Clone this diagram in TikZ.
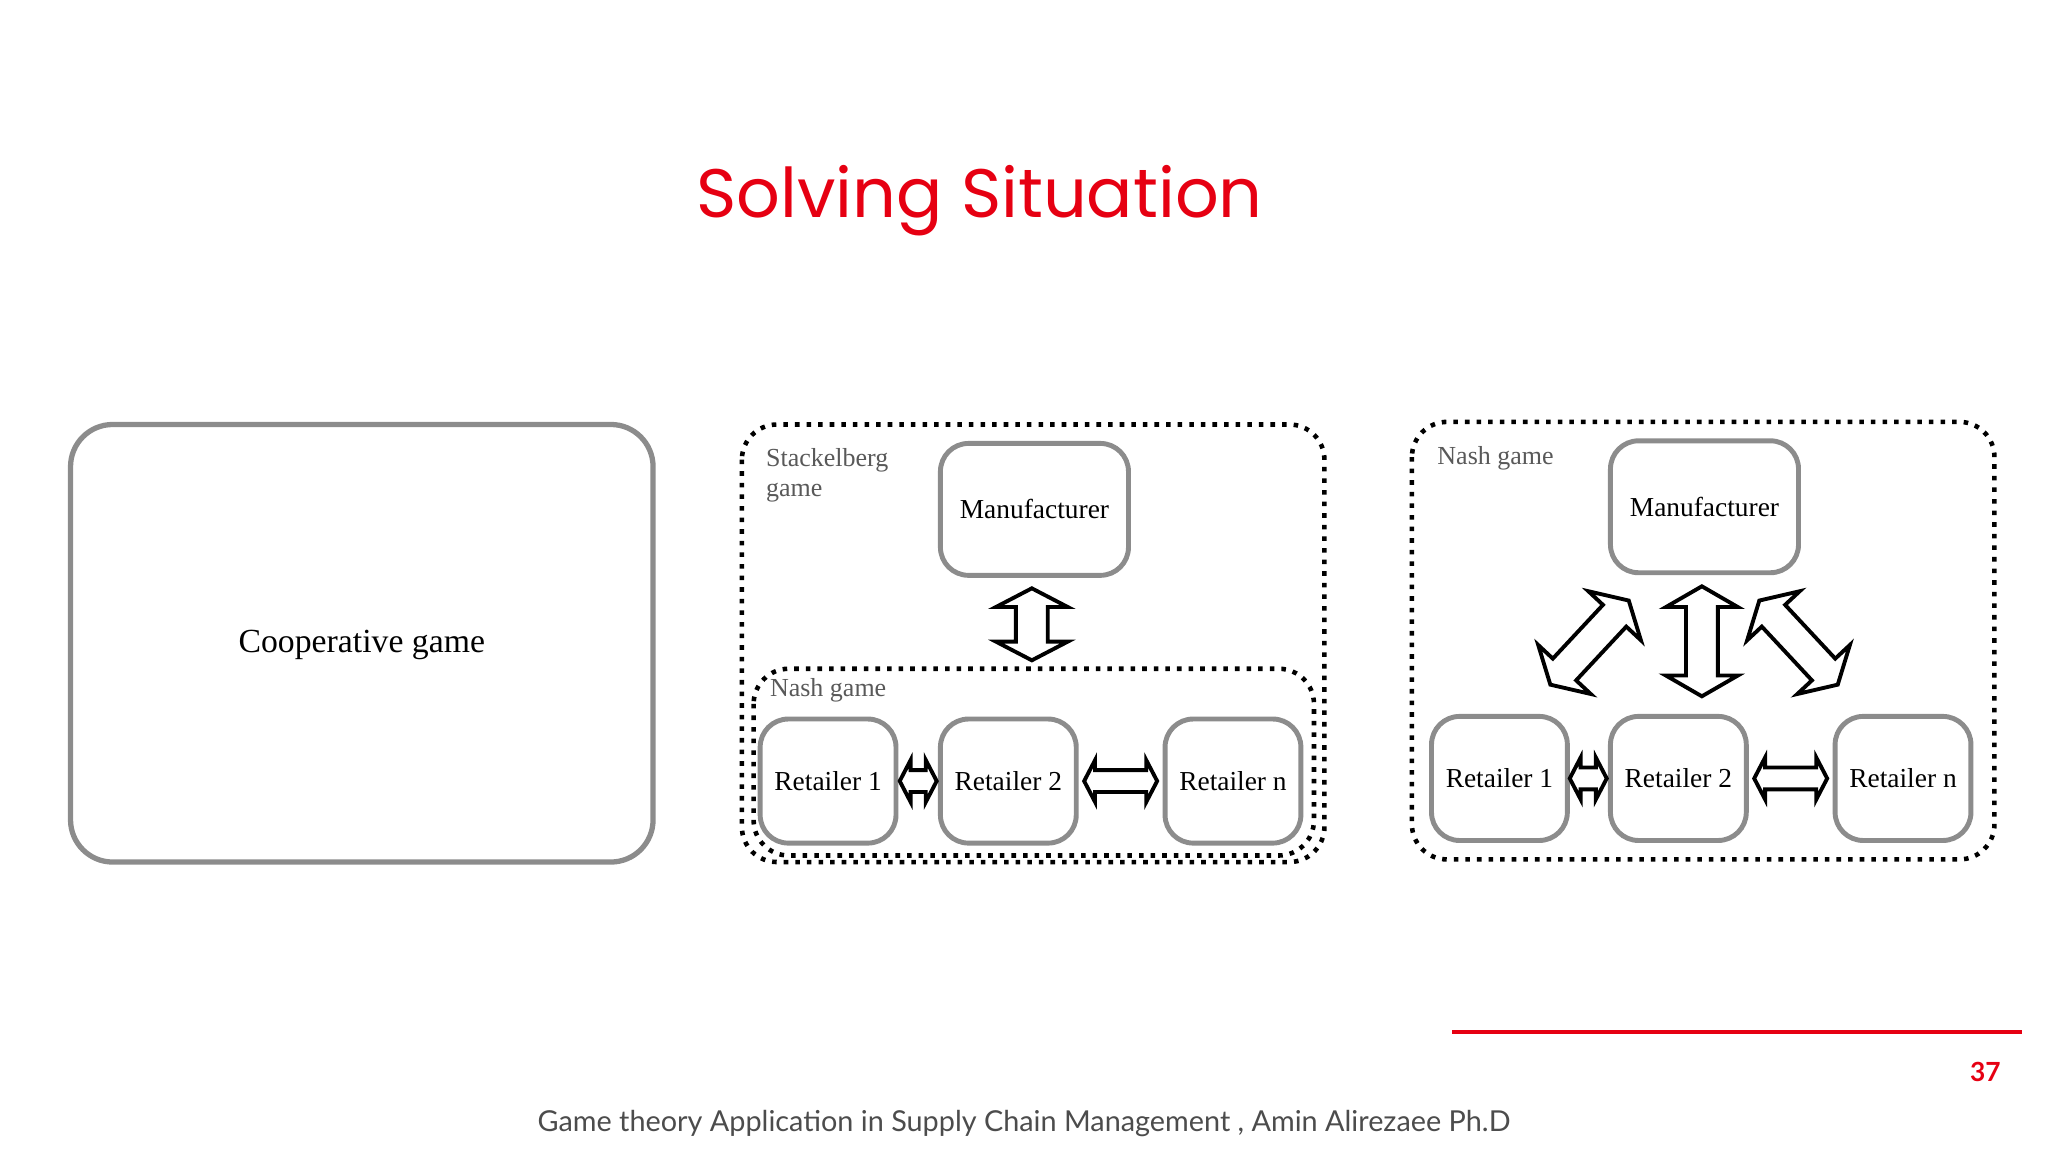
\documentclass[tikz,border=0pt]{standalone}
\usepackage{fontspec}
\setmainfont{Liberation Serif}
\newfontfamily\titlefont{Poppins}
\newfontfamily\footfont{Lato}
\usetikzlibrary{shapes.arrows}
\definecolor{slidered}{RGB}{230,0,18}
\definecolor{boxgray}{RGB}{140,140,140}
\begin{document}
\begin{tikzpicture}[x=0.01306cm,y=-0.01306cm]
    \tikzset{player/.style={draw=boxgray,line width=1.4pt,rounded corners=8pt,font=\fontsize{7.8}{9}\selectfont,inner sep=0pt},
        gamebox/.style={draw=black,line width=1.3pt,dotted,rounded corners=10pt},
        gamelabel/.style={text=black!65,font=\fontsize{7.4}{8.6}\selectfont,align=left,anchor=north west,inner sep=0pt},
        dblarrow/.style={double arrow,draw=black,line width=1.1pt,fill=white,inner xsep=0pt,inner ysep=0.14cm,
            text height=0pt,text depth=0pt,double arrow head extend=0.2cm,minimum width=0pt,double arrow tip angle=120},
        smallarrow/.style={dblarrow,inner ysep=0.09cm,double arrow head extend=0.1cm,double arrow tip angle=125}}
    \useasboundingbox (0,0) rectangle (1568,882);

    \node[text=slidered,font=\titlefont\fontsize{19.5}{24}\selectfont] (title) at (750,154) {Solving Situation};

    % cooperative
    \draw[draw=boxgray,line width=1.5pt,rounded corners=12pt] (54,325) rectangle (500,660);
    \node[font=\fontsize{9.6}{11}\selectfont] (coop) at (277,494) {Cooperative game};

    % stackelberg
    \draw[gamebox] (568,325) rectangle (1014,660);
    \draw[gamebox] (577,512) rectangle (1006,655);
    \node[gamelabel] (stlabel) at (586,343) {Stackelberg\\game};
    \node[gamelabel] (nlabel) at (589,519) {Nash game};
    \node[player,minimum width=144*0.01306cm,minimum height=101*0.01306cm] (m1) at (792,390) {Manufacturer};
    \node[player,minimum width=104*0.01306cm,minimum height=95*0.01306cm] (r11) at (634,598) {Retailer 1};
    \node[player,minimum width=104*0.01306cm,minimum height=95*0.01306cm] (r12) at (772,598) {Retailer 2};
    \node[player,minimum width=104*0.01306cm,minimum height=95*0.01306cm] (r1n) at (944,598) {Retailer n};
    \node[dblarrow,rotate=90,minimum height=0.72cm,double arrow tip angle=125] (a1) at (790,478) {};
    \node[smallarrow,minimum height=0.37cm] (a2) at (703,598) {};
    \node[smallarrow,minimum height=0.73cm] (a3) at (858,598) {};

    % nash
    \draw[gamebox] (1081,323) rectangle (1527,658);
    \node[gamelabel] (n2label) at (1100,341) {Nash game};
    \node[player,minimum width=144*0.01306cm,minimum height=101*0.01306cm] (m2) at (1305,388) {Manufacturer};
    \node[player,minimum width=104*0.01306cm,minimum height=95*0.01306cm] (r21) at (1148,596) {Retailer 1};
    \node[player,minimum width=104*0.01306cm,minimum height=95*0.01306cm] (r22) at (1285,596) {Retailer 2};
    \node[player,minimum width=104*0.01306cm,minimum height=95*0.01306cm] (r2n) at (1457,596) {Retailer n};
    \node[dblarrow,rotate=90,minimum height=1.1cm] (b1) at (1303,491) {};
    \node[dblarrow,rotate=47,minimum height=1.15cm] (b2) at (1217,492) {};
    \node[dblarrow,rotate=-47,minimum height=1.15cm] (b3) at (1377,492) {};
    \node[smallarrow,minimum height=0.37cm] (b4) at (1216,596) {};
    \node[smallarrow,minimum height=0.73cm] (b5) at (1371,596) {};

    % footer
    \coordinate (l1) at (1112,790);
    \coordinate (l2) at (1548,790);
    \draw[slidered,line width=1.2pt] (l1) -- (l2);
    \node[text=slidered,font=\footfont\bfseries\fontsize{7.5}{9}\selectfont] (page) at (1520,821) {37};
    \node[text=black!70,font=\footfont\fontsize{8.2}{10}\selectfont] (foot) at (784,860) {Game theory Application in Supply Chain Management , Amin Alirezaee Ph.D};
\end{tikzpicture}
\end{document}
